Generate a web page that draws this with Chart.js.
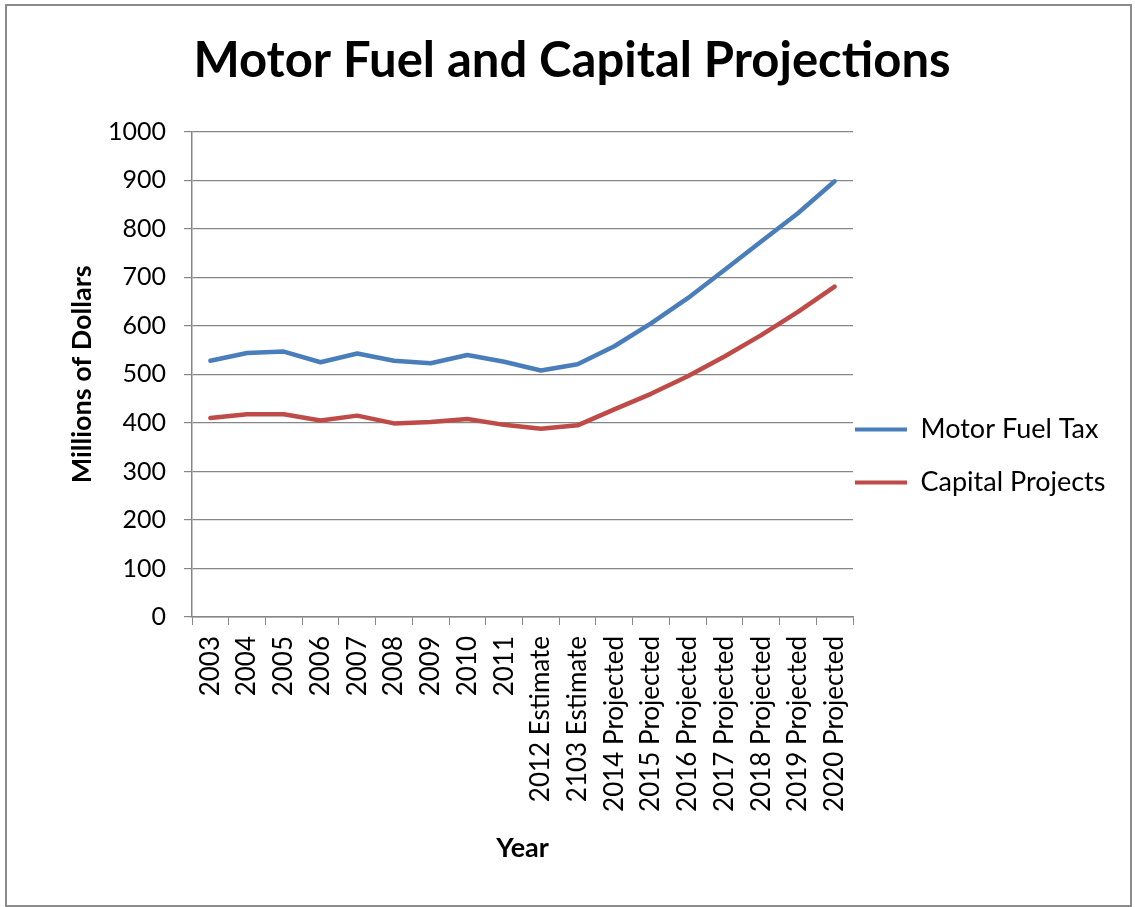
<!DOCTYPE html>
<html>
<head>
<meta charset="utf-8">
<script src="https://cdn.jsdelivr.net/npm/chart.js@4.4.1/dist/chart.umd.min.js"></script>
<style>
  body { margin: 0; background: #fff; }
  #frame {
    position: absolute; left: 5px; top: 4px;
    width: 1127px; height: 903px;
    border: 2px solid #8c8c8c; box-sizing: border-box;
  }
  #chart-wrap { position: absolute; left: 0; top: 0; right: 0; bottom: 0; }
</style>
</head>
<body>
<div id="frame"><div id="chart-wrap"><canvas id="fuelChart"></canvas></div></div>
<script>
var years = ['2003', '2004', '2005', '2006', '2007', '2008', '2009', '2010', '2011',
  '2012 Estimate', '2103 Estimate', '2014 Projected', '2015 Projected', '2016 Projected',
  '2017 Projected', '2018 Projected', '2019 Projected', '2020 Projected'];

var motorFuelTax = [528, 544, 547, 525, 543, 528, 523, 540, 526, 508, 521,
  558, 605, 657, 715, 774, 832, 898];

var capitalProjects = [410, 418, 418, 405, 415, 399, 402, 408, 396, 388, 395,
  428, 460, 496, 537, 581, 629, 681];

var yTicks = [0, 100, 200, 300, 400, 500, 600, 700, 800, 900, 1000];

var axisGray = '#868686';
var fontFace = 'Lato, "Open Sans", sans-serif';

// legend sits right against the plot, like the excel one
var legendNudge = {
  id: 'legendNudge',
  afterLayout: function(chart) {
    var lg = chart.legend;
    if (!lg) return;
    lg.left -= 24;
    lg.right = chart.width;
  }
};

new Chart(document.getElementById('fuelChart'), {
  type: 'line',
  plugins: [legendNudge],
  data: {
    labels: years,
    datasets: [{
      label: 'Motor Fuel Tax',
      data: motorFuelTax,
      borderColor: '#4a7ebb',
      backgroundColor: '#4a7ebb',
      borderWidth: 4.5,
      borderJoinStyle: 'round',
      borderCapStyle: 'round',
      pointRadius: 0,
      tension: 0
    }, {
      label: 'Capital Projects',
      data: capitalProjects,
      borderColor: '#be4b48',
      backgroundColor: '#be4b48',
      borderWidth: 4.5,
      borderJoinStyle: 'round',
      borderCapStyle: 'round',
      pointRadius: 0,
      tension: 0
    }]
  },
  options: {
    responsive: true,
    maintainAspectRatio: false,
    animation: false,
    layout: {
      padding: { top: 24, right: 20, bottom: 23, left: 27 }
    },
    plugins: {
      title: {
        display: true,
        text: 'Motor Fuel and Capital Projections',
        color: '#000',
        font: { family: fontFace, size: 49, weight: 'bold' },
        padding: { top: 2, bottom: 41 }
      },
      legend: {
        position: 'right',
        align: 'center',
        maxWidth: 257,
        labels: {
          color: '#000',
          font: { family: fontFace, size: 27 },
          boxWidth: 52,
          boxHeight: 4,
          padding: 26,
          generateLabels: function(chart) {
            return chart.data.datasets.map(function(ds, i) {
              return {
                text: ds.label,
                fillStyle: ds.borderColor,
                strokeStyle: ds.borderColor,
                lineWidth: 0,
                fontColor: '#000',
                datasetIndex: i
              };
            });
          }
        }
      },
      tooltip: { enabled: false }
    },
    scales: {
      x: {
        offset: true,
        grid: {
          offset: true,
          drawOnChartArea: false,
          color: axisGray,
          tickLength: 8
        },
        border: { color: axisGray, width: 1.5 },
        ticks: {
          color: '#000',
          font: { family: fontFace, size: 26 },
          maxRotation: 90,
          minRotation: 90,
          autoSkip: false,
          padding: 11
        },
        title: {
          display: true,
          text: 'Year',
          color: '#000',
          font: { family: fontFace, size: 27, weight: 'bold' },
          padding: { top: 10, bottom: 18 }
        },
        afterFit: function(scale) {
          scale.height = 265;
        }
      },
      y: {
        min: 0,
        max: 1000,
        afterBuildTicks: function(axis) {
          axis.ticks = yTicks.map(function(v) { return { value: v }; });
        },
        grid: {
          color: axisGray,
          lineWidth: 1.2,
          tickLength: 8
        },
        border: { color: axisGray, width: 1.5 },
        ticks: {
          color: '#000',
          font: { family: fontFace, size: 25 },
          padding: 18,
          callback: function(value) { return String(value); }
        },
        title: {
          display: true,
          text: 'Millions of Dollars',
          color: '#000',
          font: { family: fontFace, size: 27, weight: 'bold' },
          padding: { top: 32, bottom: 0 }
        },
        afterFit: function(scale) {
          scale.width = 158;
        }
      }
    }
  }
});
</script>
</body>
</html>
